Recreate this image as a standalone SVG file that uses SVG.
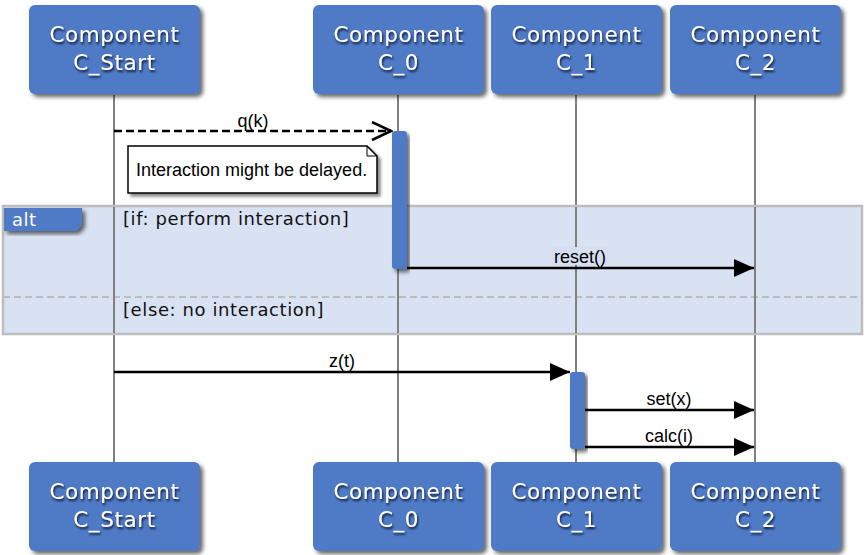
<svg xmlns="http://www.w3.org/2000/svg" width="865" height="555" viewBox="0 0 865 555">
  <defs>
    <filter id="boxShadow" x="-10%" y="-10%" width="130%" height="130%">
      <feDropShadow dx="3" dy="3" stdDeviation="2" flood-color="#000" flood-opacity="0.6"/>
    </filter>
    <filter id="textShadow" x="-10%" y="-30%" width="120%" height="170%">
      <feDropShadow dx="1" dy="2" stdDeviation="1.2" flood-color="#0a1430" flood-opacity="1"/>
    </filter>
    <filter id="noteShadow" x="-10%" y="-20%" width="120%" height="150%">
      <feDropShadow dx="3" dy="3" stdDeviation="1.5" flood-color="#000" flood-opacity="0.45"/>
    </filter>
    <marker id="solidHead" markerWidth="20" markerHeight="18" refX="20" refY="9" orient="auto" markerUnits="userSpaceOnUse">
      <path d="M0,0 L20,9 L0,18 Z" fill="#000"/>
    </marker>
    <marker id="openHead" markerWidth="22" markerHeight="22" refX="20" refY="10" orient="auto" markerUnits="userSpaceOnUse">
      <path d="M1,1 L20,10 L1,19" fill="none" stroke="#000" stroke-width="2.5"/>
    </marker>
  </defs>
  <style>
    .box { fill: #4f7ac5; filter: url(#boxShadow); }
    .boxText { font-family: "DejaVu Sans", Verdana, sans-serif; font-size: 21.5px; letter-spacing: 0.6px; fill: #fff; text-anchor: middle; filter: url(#textShadow); }
    .lifeline { stroke: #808080; stroke-width: 2; }
    .act { fill: #4f7ac5; filter: url(#boxShadow); }
    .msg { stroke: #000; stroke-width: 2.5; fill: none; }
    .lbl { font-family: "Liberation Sans", Arial, sans-serif; font-size: 18px; fill: #000; text-anchor: middle; }
    .guard { font-family: "DejaVu Sans", Verdana, sans-serif; font-size: 18px; letter-spacing: 0.6px; fill: #111; }
  </style>

  <!-- lifelines -->
  <g id="lifelines">
    <line class="lifeline" x1="114" y1="95" x2="114" y2="462"/>
    <line class="lifeline" x1="398" y1="95" x2="398" y2="462"/>
    <line class="lifeline" x1="576" y1="95" x2="576" y2="462"/>
    <line class="lifeline" x1="755" y1="95" x2="755" y2="462"/>
  </g>

  <!-- alt combined fragment -->
  <g id="alt-frame">
    <rect x="3" y="206" width="859" height="128" fill="#d6dff1" fill-opacity="0.92" stroke="#bdbdbd" stroke-width="2.5"/>
    <line x1="3" y1="297" x2="862" y2="297" stroke="#bdbdbd" stroke-width="2" stroke-dasharray="7,4"/>
    <path d="M4,208 H82 V225 L76,231 H4 Z" class="box"/>
    <text x="12" y="226" font-family="DejaVu Sans, Verdana, sans-serif" font-size="18" letter-spacing="0.5" fill="#fff">alt</text>
    <text class="guard" x="123" y="225">[if: perform interaction]</text>
    <text class="guard" x="123" y="316">[else: no interaction]</text>
  </g>

  <!-- lifelines visible over the fragment -->
  <g id="lifelines-over">
    <line class="lifeline" x1="114" y1="207" x2="114" y2="333"/>
    <line class="lifeline" x1="398" y1="207" x2="398" y2="333"/>
    <line class="lifeline" x1="576" y1="207" x2="576" y2="333"/>
    <line class="lifeline" x1="755" y1="207" x2="755" y2="333"/>
  </g>

  <!-- activation bars -->
  <g id="act-C_0">
    <rect class="act" x="392" y="131" width="15" height="138" rx="3"/>
  </g>
  <g id="act-C_1">
    <rect class="act" x="570" y="372" width="15" height="77" rx="3"/>
  </g>

  <!-- note -->
  <g id="note">
    <path d="M128,146 H367 L377,156 V193 H128 Z" fill="#fff" stroke="#000" stroke-width="1.5" filter="url(#noteShadow)"/>
    <path d="M367,146 V156 H377" fill="none" stroke="#000" stroke-width="1"/>
    <text x="136" y="176" font-family="Liberation Sans, Arial, sans-serif" font-size="18" fill="#000">Interaction might be delayed.</text>
  </g>

  <!-- messages -->
  <g id="connectors">
    <line class="msg" x1="114" y1="131" x2="391" y2="131" stroke-dasharray="8,4" stroke-width="2" marker-end="url(#openHead)"/>
    <text class="lbl" x="253" y="127">q(k)</text>

    <line class="msg" x1="407" y1="268" x2="754" y2="268" marker-end="url(#solidHead)"/>
    <rect x="552" y="247" width="56" height="18" fill="#d6dff1"/>
    <text class="lbl" x="580" y="263">reset()</text>

    <line class="msg" x1="114" y1="372" x2="570" y2="372" marker-end="url(#solidHead)"/>
    <text class="lbl" x="342" y="367">z(t)</text>

    <line class="msg" x1="585" y1="410" x2="754" y2="410" marker-end="url(#solidHead)"/>
    <text class="lbl" x="669" y="405">set(x)</text>

    <line class="msg" x1="585" y1="447" x2="754" y2="447" marker-end="url(#solidHead)"/>
    <text class="lbl" x="669" y="442">calc(i)</text>
  </g>

  <!-- participants (top) -->
  <g id="C_Start-top">
    <rect class="box" x="29" y="5" width="171" height="89" rx="6"/>
    <text class="boxText" x="114.5" y="42">Component</text>
    <text class="boxText" x="114.5" y="70">C_Start</text>
  </g>
  <g id="C_0-top">
    <rect class="box" x="313" y="5" width="171" height="89" rx="6"/>
    <text class="boxText" x="398.5" y="42">Component</text>
    <text class="boxText" x="398.5" y="70">C_0</text>
  </g>
  <g id="C_1-top">
    <rect class="box" x="491" y="5" width="171" height="89" rx="6"/>
    <text class="boxText" x="576.5" y="42">Component</text>
    <text class="boxText" x="576.5" y="70">C_1</text>
  </g>
  <g id="C_2-top">
    <rect class="box" x="670" y="5" width="171" height="89" rx="6"/>
    <text class="boxText" x="755.5" y="42">Component</text>
    <text class="boxText" x="755.5" y="70">C_2</text>
  </g>

  <!-- participants (bottom) -->
  <g id="C_Start-bottom">
    <rect class="box" x="29" y="462" width="171" height="89" rx="6"/>
    <text class="boxText" x="114.5" y="499">Component</text>
    <text class="boxText" x="114.5" y="527">C_Start</text>
  </g>
  <g id="C_0-bottom">
    <rect class="box" x="313" y="462" width="171" height="89" rx="6"/>
    <text class="boxText" x="398.5" y="499">Component</text>
    <text class="boxText" x="398.5" y="527">C_0</text>
  </g>
  <g id="C_1-bottom">
    <rect class="box" x="491" y="462" width="171" height="89" rx="6"/>
    <text class="boxText" x="576.5" y="499">Component</text>
    <text class="boxText" x="576.5" y="527">C_1</text>
  </g>
  <g id="C_2-bottom">
    <rect class="box" x="670" y="462" width="171" height="89" rx="6"/>
    <text class="boxText" x="755.5" y="499">Component</text>
    <text class="boxText" x="755.5" y="527">C_2</text>
  </g>
</svg>
